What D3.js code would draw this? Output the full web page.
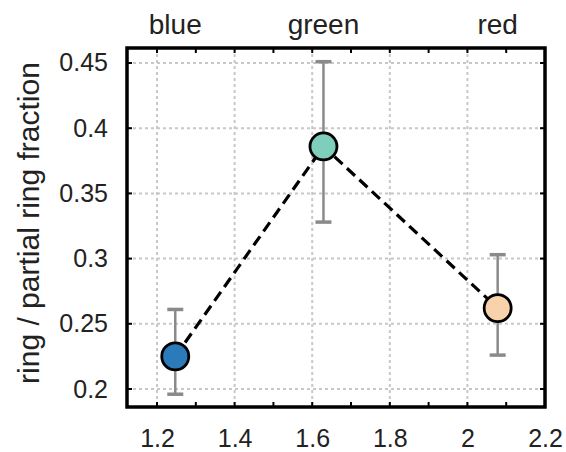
<!DOCTYPE html>
<html>
<head>
<meta charset="utf-8">
<script src="https://cdn.jsdelivr.net/npm/d3@7"></script>
<style>
  body { margin: 0; background: #fff; }
  text { font-family: "Liberation Sans", Arial, sans-serif; fill: #222; }
</style>
</head>
<body>
<svg id="chart" width="566" height="452"></svg>
<script>
// data
const categories = ["blue", "green", "red"];
const xValues = [1.247, 1.629, 2.078];
const yValues = [0.225, 0.386, 0.262];
const errLow = [0.196, 0.328, 0.226];
const errHigh = [0.261, 0.451, 0.303];
const pointColors = ["#2b7bba", "#7fcdbb", "#f8d2aa"];
const xTicks = [1.2, 1.4, 1.6, 1.8, 2, 2.2];
const yTicks = [0.2, 0.25, 0.3, 0.35, 0.4, 0.45];

const width = 566, height = 452;
const margin = { top: 48, right: 21, bottom: 45, left: 127 };

const $svg = d3.select("#chart");

const x = d3.scaleLinear()
    .domain([1.1226, 2.2])
    .range([margin.left, width - margin.right]);

const y = d3.scaleLinear()
    .domain([0.1862, 0.4615])
    .range([height - margin.bottom, margin.top]);

const pts = categories.map((c, i) => ({
    name: c, x: xValues[i], y: yValues[i],
    lo: errLow[i], hi: errHigh[i], color: pointColors[i]
}));

// Grid
const $grid = $svg.append("g").attr("id", "grid")
    .attr("stroke", "#c8c8c8")
    .attr("stroke-width", 2)
    .attr("stroke-dasharray", "3,3");

$grid.selectAll("line.v")
  .data(xTicks.filter(d => d < 2.2))
  .join("line")
    .attr("class", "v")
    .attr("x1", d => x(d)).attr("x2", d => x(d))
    .attr("y1", margin.top).attr("y2", height - margin.bottom);

$grid.selectAll("line.h")
  .data(yTicks)
  .join("line")
    .attr("class", "h")
    .attr("y1", d => y(d)).attr("y2", d => y(d))
    .attr("x1", margin.left).attr("x2", width - margin.right);

// Inner ticks on all four sides
const xMinor = d3.range(12, 23).map(d => d / 10);
const tickLen = 5;
const $ticks = $svg.append("g").attr("stroke", "#000").attr("stroke-width", 2);
$ticks.selectAll("line.tb")
  .data(xMinor)
  .join("line")
    .attr("class", "tb")
    .attr("x1", d => x(d)).attr("x2", d => x(d))
    .attr("y1", height - margin.bottom).attr("y2", height - margin.bottom - tickLen);
$ticks.selectAll("line.tt")
  .data(xMinor)
  .join("line")
    .attr("class", "tt")
    .attr("x1", d => x(d)).attr("x2", d => x(d))
    .attr("y1", margin.top).attr("y2", margin.top + tickLen);
$ticks.selectAll("line.tl")
  .data(yTicks)
  .join("line")
    .attr("class", "tl")
    .attr("y1", d => y(d)).attr("y2", d => y(d))
    .attr("x1", margin.left).attr("x2", margin.left + tickLen);
$ticks.selectAll("line.tr")
  .data(yTicks)
  .join("line")
    .attr("class", "tr")
    .attr("y1", d => y(d)).attr("y2", d => y(d))
    .attr("x1", width - margin.right).attr("x2", width - margin.right - tickLen);

// Axes labels (tick text only)
const xAxis = d3.axisBottom(x).tickValues(xTicks).tickFormat(d3.format("")).tickSize(0).tickPadding(22);
const yAxis = d3.axisLeft(y).tickValues(yTicks).tickFormat(d3.format("")).tickSize(0).tickPadding(19);

$svg.append("g")
    .attr("transform", `translate(0,${height - margin.bottom})`)
    .call(xAxis)
    .call(g => g.select(".domain").remove())
    .selectAll("text").style("font-size", "25px").attr("fill", "#222");

$svg.append("g")
    .attr("transform", `translate(${margin.left},0)`)
    .call(yAxis)
    .call(g => g.select(".domain").remove())
    .selectAll("text").style("font-size", "25px").attr("fill", "#222");

// Category labels on top
$svg.append("g")
  .selectAll("text")
  .data(pts)
  .join("text")
    .attr("x", d => x(d.x))
    .attr("y", 34)
    .attr("text-anchor", "middle")
    .style("font-size", "28px")
    .text(d => d.name);

// Y title
$svg.append("text")
    .attr("transform", `translate(39,223) rotate(-90)`)
    .attr("text-anchor", "middle")
    .style("font-size", "30px")
    .text("ring / partial ring fraction");

// Error bars
const cap = 8;
const $err = $svg.append("g").attr("stroke", "#8a8a8a").attr("stroke-width", 2.5);
$err.selectAll("line.stem")
  .data(pts)
  .join("line")
    .attr("class", "stem")
    .attr("x1", d => x(d.x)).attr("x2", d => x(d.x))
    .attr("y1", d => y(d.lo)).attr("y2", d => y(d.hi));
$err.selectAll("line.capHi")
  .data(pts)
  .join("line")
    .attr("class", "capHi")
    .attr("stroke-width", 3.5)
    .attr("x1", d => x(d.x) - cap).attr("x2", d => x(d.x) + cap)
    .attr("y1", d => y(d.hi)).attr("y2", d => y(d.hi));
$err.selectAll("line.capLo")
  .data(pts)
  .join("line")
    .attr("class", "capLo")
    .attr("stroke-width", 3.5)
    .attr("x1", d => x(d.x) - cap).attr("x2", d => x(d.x) + cap)
    .attr("y1", d => y(d.lo)).attr("y2", d => y(d.lo));

// Dashed connecting line
$svg.append("path")
    .datum(pts)
    .attr("fill", "none")
    .attr("stroke", "#000")
    .attr("stroke-width", 3.2)
    .attr("stroke-dasharray", "11,6")
    .attr("d", d3.line().x(d => x(d.x)).y(d => y(d.y)));

// Points
$svg.append("g")
  .selectAll("circle")
  .data(pts)
  .join("circle")
    .attr("cx", d => x(d.x))
    .attr("cy", d => y(d.y))
    .attr("r", 13.5)
    .attr("fill", d => d.color)
    .attr("stroke", "#000")
    .attr("stroke-width", 2.8);

// Frame
$svg.append("rect")
    .attr("x", margin.left)
    .attr("y", margin.top)
    .attr("width", width - margin.left - margin.right)
    .attr("height", height - margin.top - margin.bottom)
    .attr("fill", "none")
    .attr("stroke", "#000")
    .attr("stroke-width", 3.5);
</script>
</body>
</html>
